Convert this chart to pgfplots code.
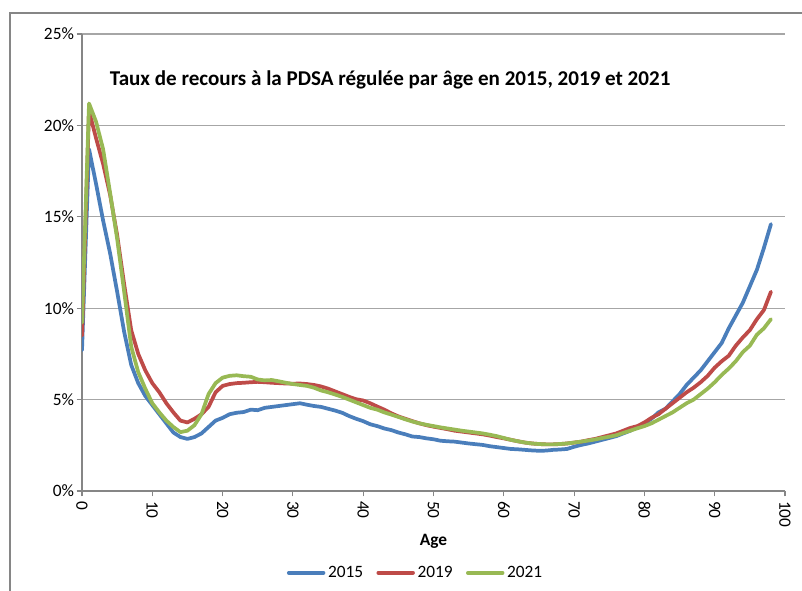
\documentclass[border=0pt]{standalone}
\usepackage{fontspec}
\setmainfont{Carlito}
\usepackage{pgfplots}
\usepackage{pgfplotstable}
\pgfplotsset{compat=1.18}

\definecolor{c2015}{HTML}{4A7EBB}
\definecolor{c2019}{HTML}{BE4B48}
\definecolor{c2021}{HTML}{98B954}
\definecolor{gridgray}{HTML}{A6A6A6}
\definecolor{axisgray}{HTML}{868686}

% taux de recours (%) par age
\pgfplotstableread{
age y2015 y2019 y2021
0 7.7 8.5 9.2
1 18.7 20.8 21.2
2 16.8 19.3 20.2
3 14.8 17.9 18.7
4 13.0 16.2 16.3
5 10.9 14.0 13.8
6 8.7 11.3 10.9
7 6.9 8.8 7.9
8 5.9 7.5 6.5
9 5.2 6.6 5.6
10 4.7 5.9 4.8
11 4.2 5.4 4.3
12 3.7 4.8 3.85
13 3.2 4.3 3.5
14 2.95 3.85 3.22
15 2.85 3.75 3.3
16 2.95 3.95 3.6
17 3.15 4.2 4.2
18 3.5 4.6 5.3
19 3.85 5.4 5.9
20 4.0 5.75 6.2
21 4.2 5.85 6.3
22 4.28 5.9 6.33
23 4.32 5.92 6.28
24 4.45 5.95 6.25
25 4.42 5.97 6.1
26 4.55 5.95 6.05
27 4.6 5.92 6.07
28 4.65 5.9 6.0
29 4.7 5.88 5.92
30 4.75 5.87 5.85
31 4.8 5.88 5.8
32 4.72 5.85 5.75
33 4.65 5.8 5.65
34 4.6 5.72 5.5
35 4.5 5.6 5.4
36 4.4 5.45 5.28
37 4.28 5.3 5.15
38 4.1 5.15 5.0
39 3.95 5.02 4.85
40 3.82 4.95 4.7
41 3.65 4.8 4.55
42 3.55 4.62 4.45
43 3.42 4.45 4.3
44 3.33 4.25 4.18
45 3.2 4.08 4.05
46 3.1 3.95 3.92
47 2.98 3.82 3.8
48 2.95 3.7 3.7
49 2.88 3.6 3.62
50 2.83 3.52 3.55
51 2.75 3.45 3.48
52 2.72 3.38 3.42
53 2.7 3.3 3.36
54 2.65 3.25 3.3
55 2.6 3.2 3.25
56 2.56 3.15 3.2
57 2.52 3.1 3.15
58 2.45 3.03 3.08
59 2.4 2.95 3.0
60 2.35 2.88 2.9
61 2.3 2.8 2.8
62 2.28 2.72 2.72
63 2.25 2.65 2.65
64 2.22 2.6 2.6
65 2.2 2.57 2.57
66 2.21 2.55 2.55
67 2.25 2.55 2.55
68 2.27 2.57 2.57
69 2.3 2.6 2.6
70 2.42 2.65 2.65
71 2.52 2.7 2.7
72 2.6 2.78 2.76
73 2.7 2.85 2.82
74 2.8 2.95 2.9
75 2.9 3.05 2.97
76 3.0 3.15 3.05
77 3.15 3.3 3.18
78 3.3 3.45 3.3
79 3.5 3.55 3.43
80 3.7 3.75 3.55
81 3.95 4.0 3.7
82 4.3 4.2 3.9
83 4.5 4.5 4.1
84 4.9 4.8 4.3
85 5.3 5.1 4.55
86 5.8 5.4 4.8
87 6.2 5.65 5.0
88 6.6 5.95 5.3
89 7.1 6.3 5.6
90 7.6 6.75 5.95
91 8.1 7.1 6.35
92 8.9 7.4 6.7
93 9.6 7.95 7.1
94 10.3 8.4 7.6
95 11.2 8.8 7.95
96 12.1 9.4 8.55
97 13.3 9.9 8.9
98 14.6 10.9 9.4
}\taux

\begin{document}
\begin{tikzpicture}
\path[use as bounding box] (0,0) rectangle (601.5pt,443.25pt);
\begin{axis}[
    at={(61.5pt,75pt)}, anchor=origin,
    scale only axis,
    width=527.25pt, height=342.75pt,
    xmin=0, xmax=100, ymin=0, ymax=25,
    axis lines=left,
    axis line style={-, draw=axisgray, line width=0.8pt},
    xtick={0,10,...,100},
    xticklabels={0,10,20,30,40,50,60,70,80,90,100},
    ytick={0,5,10,15,20,25},
    yticklabels={0\%,5\%,10\%,15\%,20\%,25\%},
    tick align=outside,
    major tick length=4pt,
    tick style={draw=axisgray, line width=0.8pt},
    ymajorgrids,
    grid style={draw=gridgray, line width=0.8pt},
    ticklabel style={font=\fontsize{13}{15}\selectfont, text=black},
    yticklabel style={xshift=1.5pt},
    xticklabel style={rotate=-90, anchor=west},
    xlabel={\textbf{Age}},
    xlabel style={font=\fontsize{13}{15}\selectfont, at={(axis description cs:0.5,-0.11)}, anchor=center},
    legend columns=3,
    legend style={at={(axis description cs:0.475,-0.179)}, anchor=center, draw=none,
        font=\fontsize{13}{15}\selectfont, /tikz/every even column/.append style={column sep=8pt}},
    legend image code/.code={\draw[#1] (0pt,0pt) -- (26pt,0pt);},
    every axis plot/.append style={line width=2.8pt, line join=round, line cap=round},
]
\addplot[c2015] table[x=age, y=y2015] {\taux};
\addplot[c2019] table[x=age, y=y2019] {\taux};
\addplot[c2021] table[x=age, y=y2021] {\taux};
\legend{2015,2019,2021}
\node[anchor=west, font=\fontsize{15.8}{18}\selectfont\bfseries] at (axis cs:3.3,22.5)
    {Taux de recours à la PDSA régulée par âge en 2015, 2019 et 2021};
\end{axis}
\draw[axisgray, line width=1.1pt] (7.5pt,0pt) -- (7.5pt,433.5pt) -- (601.5pt,433.5pt);
\end{tikzpicture}
\end{document}
